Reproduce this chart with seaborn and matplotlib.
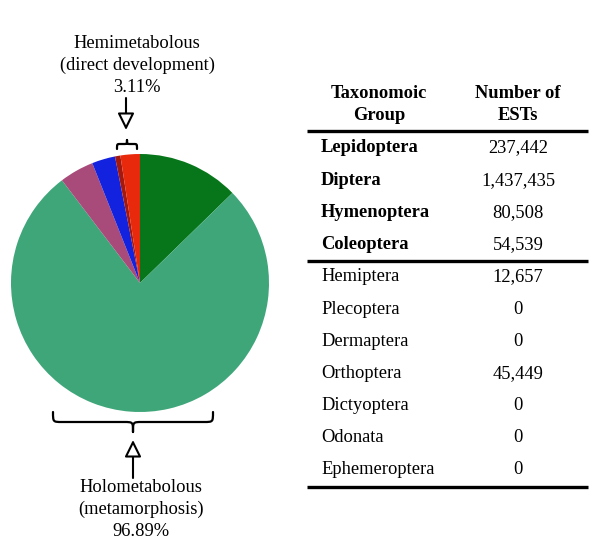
import matplotlib
matplotlib.use("Agg")
import matplotlib.pyplot as plt
from matplotlib.path import Path
from matplotlib.patches import PathPatch
import seaborn as sns

# ---- data ----
groups = ["Lepidoptera", "Diptera", "Hymenoptera", "Coleoptera",
          "Hemiptera", "Plecoptera", "Dermaptera", "Orthoptera",
          "Dictyoptera", "Odonata", "Ephemeroptera"]
est_counts = [237442, 1437435, 80508, 54539,
              12657, 0, 0, 45449, 0, 0, 0]
holometabolous = ["Lepidoptera", "Diptera", "Hymenoptera", "Coleoptera"]
pie_groups = ["Lepidoptera", "Diptera", "Hymenoptera", "Coleoptera", "Hemiptera", "Orthoptera"]
pie_colors = ["#07761a", "#3fa67a", "#a84b7b", "#1322df", "#a3180f", "#e8290c"]
holo_label = ["Holometabolous", "(metamorphosis)", "96.89%"]
hemi_label = ["Hemimetabolous", "(direct development)", "3.11%"]
header = [["Taxonomoic", "Group"], ["Number of", "ESTs"]]

sns.set_theme(style="white")
plt.rcParams["font.family"] = ["Liberation Serif", "DejaVu Serif"]
plt.rcParams["text.color"] = "black"

W, H = 600, 557
fig = plt.figure(figsize=(6, 5.57), dpi=100)
ax = fig.add_axes([0, 0, 1, 1])

def Y(py):
    return H - py

vals = [est_counts[groups.index(g)] for g in pie_groups]
pal = sns.color_palette(pie_colors)
ax.pie(vals, colors=pal, startangle=90, counterclock=False,
       center=(140, Y(283)), radius=129, wedgeprops=dict(linewidth=0))
ax.set_xlim(0, W)
ax.set_ylim(0, H)
ax.set_aspect("equal")
ax.axis("off")

fs = 13.3

def brace(x0, x1, y_end, y_line, y_tip, r):
    xm = (x0 + x1) / 2
    verts = [
        (x0, Y(y_end)),
        (x0, Y(y_line)), (x0, Y(y_line)), (x0 + r, Y(y_line)),
        (xm - r, Y(y_line)),
        (xm, Y(y_line)), (xm, Y(y_line)), (xm, Y(y_tip)),
        (xm, Y(y_tip)),
        (xm, Y(y_line)), (xm, Y(y_line)), (xm + r, Y(y_line)),
        (x1 - r, Y(y_line)),
        (x1, Y(y_line)), (x1, Y(y_line)), (x1, Y(y_end)),
    ]
    codes = [Path.MOVETO,
             Path.CURVE4, Path.CURVE4, Path.CURVE4,
             Path.LINETO,
             Path.CURVE4, Path.CURVE4, Path.CURVE4,
             Path.MOVETO, Path.CURVE4, Path.CURVE4, Path.CURVE4,
             Path.LINETO,
             Path.CURVE4, Path.CURVE4, Path.CURVE4]
    ax.add_patch(PathPatch(Path(verts, codes), fc="none", ec="black", lw=1.6,
                           capstyle="round", joinstyle="round"))

# bottom brace (holometabolous)
brace(53, 213, 412, 422, 432, 9)
# top brace (hemimetabolous)
brace(117, 137, 149, 144, 140, 3)

arrow_style = "-|>,head_length=0.85,head_width=0.42"
ax.annotate("", xy=(133, Y(440)), xytext=(133, Y(478)),
            arrowprops=dict(arrowstyle=arrow_style, fc="white", ec="black", lw=1.5,
                            shrinkA=0, shrinkB=0))
ax.annotate("", xy=(126, Y(130)), xytext=(126, Y(98)),
            arrowprops=dict(arrowstyle=arrow_style, fc="white", ec="black", lw=1.5,
                            shrinkA=0, shrinkB=0))

for i, t in enumerate(hemi_label):
    ax.text(137, Y(43 + 22.5 * i), t, ha="center", va="center", fontsize=fs, color="black")
for i, t in enumerate(holo_label):
    ax.text(141, Y(487 + 22 * i), t, ha="center", va="center", fontsize=fs, color="black")

# table
col1_x, col2_x = 379, 518
for j, (cx, lines) in enumerate(zip([col1_x, col2_x], header)):
    for k, t in enumerate(lines):
        ax.text(cx, Y(93 + 22 * k), t, ha="center", va="center",
                fontsize=fs, fontweight="bold", color="black")

ax.plot([307, 588], [Y(131), Y(131)], color="black", lw=2.4, solid_capstyle="butt")
row_y0, row_dy = 148, 32.2
for i, (g, n) in enumerate(zip(groups, est_counts)):
    y = row_y0 + row_dy * i
    bold = g in holometabolous
    ax.text(321, Y(y), g, ha="left", va="center", fontsize=fs,
            fontweight="bold" if bold else "normal", color="black")
    ax.text(col2_x, Y(y), f"{n:,}", ha="center", va="center", fontsize=fs, color="black")
ax.plot([307, 588], [Y(261), Y(261)], color="black", lw=2.4, solid_capstyle="butt")
ax.plot([307, 588], [Y(487), Y(487)], color="black", lw=2.4, solid_capstyle="butt")

fig.savefig("out.png", dpi=100, facecolor="white")
